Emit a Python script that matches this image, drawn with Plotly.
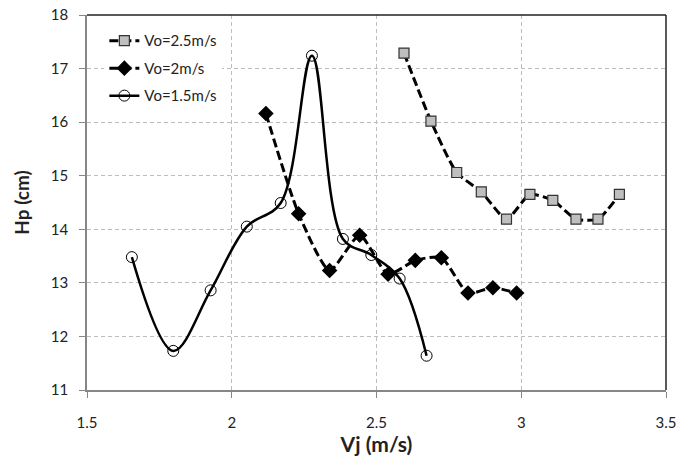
import plotly.graph_objects as go

# Vo = 2.5 m/s
x25 = [2.595, 2.688, 2.777, 2.862, 2.949, 3.030, 3.109, 3.189, 3.265, 3.339]
y25 = [17.29, 16.02, 15.06, 14.70, 14.19, 14.65, 14.54, 14.19, 14.19, 14.65]
# Vo = 2 m/s
x20 = [2.118, 2.231, 2.338, 2.442, 2.540, 2.634, 2.724, 2.816, 2.902, 2.984]
y20 = [16.16, 14.29, 13.23, 13.89, 13.16, 13.42, 13.47, 12.81, 12.91, 12.81]
# Vo = 1.5 m/s
x15 = [1.655, 1.798, 1.927, 2.052, 2.169, 2.277, 2.384, 2.482, 2.580, 2.673]
y15 = [13.48, 11.73, 12.86, 14.05, 14.49, 17.24, 13.82, 13.52, 13.08, 11.64]

names = ["Vo=2.5m/s", "Vo=2m/s", "Vo=1.5m/s"]
xticks = [1.5, 2, 2.5, 3, 3.5]
yticks = [11, 12, 13, 14, 15, 16, 17, 18]

FONT = "Lato, Calibri, Carlito, sans-serif"

fig = go.Figure()
fig.add_trace(go.Scatter(
    x=x25, y=y25, name=names[0], mode="lines+markers", legendgroup="a",
    line=dict(color="black", width=3, dash="9px,4px", shape="spline", smoothing=0.6),
    marker=dict(symbol="square", size=10, color="#bfbfbf", line=dict(color="#333333", width=1.2)),
))
fig.add_trace(go.Scatter(
    x=x20, y=y20, name=names[1], mode="lines+markers", legendgroup="b",
    line=dict(color="black", width=3, dash="9px,4px", shape="spline", smoothing=0.6),
    marker=dict(symbol="diamond", size=12, color="black"),
))
fig.add_trace(go.Scatter(
    x=x15, y=y15, name=names[2], mode="lines+markers", legendgroup="c",
    line=dict(color="black", width=2.5, shape="spline", smoothing=1.0),
    marker=dict(symbol="circle-open", size=11, color="black", line=dict(width=1)),
))

fig.update_layout(
    width=691, height=456,
    margin=dict(l=87, r=25, t=15, b=66),
    paper_bgcolor="white", plot_bgcolor="white",
    font=dict(family=FONT, size=14, color="#222222"),
    showlegend=True,
    legend=dict(x=0.03, y=0.975, xanchor="left", yanchor="top",
                bgcolor="white", borderwidth=0,
                font=dict(family=FONT, size=15, color="#222222"),
                tracegroupgap=5, itemwidth=30),
    xaxis=dict(range=[1.5, 3.5], tickvals=xticks, ticktext=[str(v) for v in xticks],
               showgrid=True, gridcolor="#bdbdbd", griddash="4px,3px", gridwidth=1,
               showline=True, linecolor="#868686", linewidth=1.5,
               ticks="outside", ticklen=6, tickcolor="#868686",
               zeroline=False, automargin=False, ticklabelstandoff=12,
               title=dict(text="<b>Vj (m/s)</b>", font=dict(family=FONT, size=21, color="#222222"), standoff=8),
               tickfont=dict(size=15)),
    yaxis=dict(range=[11, 18], tickvals=yticks, ticktext=[str(v) for v in yticks],
               showgrid=True, gridcolor="#bdbdbd", griddash="4px,3px", gridwidth=1,
               showline=True, linecolor="#868686", linewidth=1.5,
               ticks="outside", ticklen=6, tickcolor="#868686",
               zeroline=False, automargin=False, ticklabelstandoff=8,
               title=dict(text="<b>Hp (cm)</b>", font=dict(family=FONT, size=19, color="#222222"), standoff=16),
               tickfont=dict(size=15)),
)
fig.add_shape(type="line", xref="paper", yref="paper", x0=0, x1=1, y0=1, y1=1,
              line=dict(color="#222222", width=1.5))
fig.add_shape(type="line", xref="paper", yref="paper", x0=1, x1=1, y0=0, y1=1,
              line=dict(color="#222222", width=1.5))

fig.write_html("out.html", config={"displayModeBar": False},
               post_script="document.body.style.margin='0';")
